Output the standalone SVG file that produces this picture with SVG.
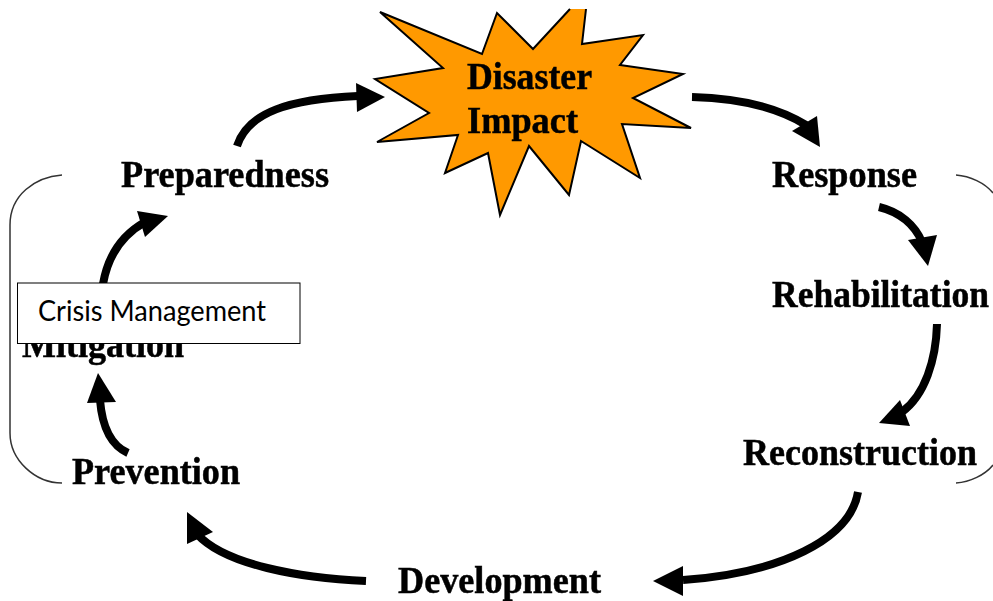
<svg xmlns="http://www.w3.org/2000/svg" width="993" height="601" viewBox="0 0 993 601">
<style>
.lbl{font-family:"Liberation Serif","Times New Roman",serif;font-weight:700;font-size:37px;fill:#000;stroke:#000;stroke-width:.5;filter:url(#soft)}
.arc{fill:none;stroke:#000;stroke-width:8}
.head{fill:#000}
.brk{fill:none;stroke:#333;stroke-width:1.5}
</style>
<defs><filter id="soft" x="-5%" y="-10%" width="110%" height="120%"><feGaussianBlur stdDeviation="0.5"/></filter></defs>
<rect width="993" height="601" fill="#fff"/>
<g id="connectors">
<path class="arc" d="M237 146C248 112 290 99 358 96"/><polygon class="head" points="385,97 356,83 357,112"/>
<path class="arc" d="M692 97C735 98 775 106 806 125"/><polygon class="head" points="820,147 817,116 792,131"/>
<path class="arc" d="M879 207C900 212 915 225 922 242"/><polygon class="head" points="928,266 937,235 908,240"/>
<path class="arc" d="M937 324C936 360 925 395 902 412"/><polygon class="head" points="879,423 910,426 900,400"/>
<path class="arc" d="M858 492C850 540 780 573 683 580"/><polygon class="head" points="653,581 683,566 683,596"/>
<path class="arc" d="M366 581C300 578 225 565 197 534"/><polygon class="head" points="187,512 213,532 187,544"/>
<path class="arc" d="M128 453C110 445 102 425 100 400"/><polygon class="head" points="98,373 87,403 116,402"/>
<path class="arc" d="M103 284C108 255 122 235 145 222"/><polygon class="head" points="168,216 137,211 145,237"/>
<path class="brk" d="M62 175C35 177 10 195 10 225V433C10 460 35 483 62 483"/>
<path class="brk" d="M956 175C970 176 985 183 993 193"/>
<path class="brk" d="M956 483C970 482 985 475 993 465"/>
</g>
<g id="disaster-impact">
<polygon fill="#ff9900" points="380,12 482,54 497,13 533,49 570,9 586,9 582,44 643,35 620,65 683,74 633,98 691,128 622,124 640,178 581,141 569,195 529,146 500,215 488,153 445,173 458,135 377,142 429,113 375,79 443,68"/>
<polyline fill="none" stroke="#000" stroke-width="2" points="570,9 533,49 497,13 482,54 380,12 443,68 375,79 429,113 377,142 458,135 445,173 488,153 500,215 529,146 569,195 581,141 640,178 622,124 691,128 633,98 683,74 620,65 643,35 582,44 586,9"/>
<text class="lbl" x="467" y="89" textLength="125" lengthAdjust="spacingAndGlyphs">Disaster</text>
<text class="lbl" x="467" y="133" textLength="111" lengthAdjust="spacingAndGlyphs">Impact</text>
</g>
<g id="preparedness"><text class="lbl" x="121" y="187" textLength="208" lengthAdjust="spacingAndGlyphs">Preparedness</text></g>
<g id="response"><text class="lbl" x="772" y="187" textLength="145" lengthAdjust="spacingAndGlyphs">Response</text></g>
<g id="rehabilitation"><text class="lbl" transform="translate(772 307) scale(.96 1)">Rehabilitation</text></g>
<g id="reconstruction"><text class="lbl" x="743" y="465" textLength="234" lengthAdjust="spacingAndGlyphs">Reconstruction</text></g>
<g id="development"><text class="lbl" x="398" y="593" textLength="203" lengthAdjust="spacingAndGlyphs">Development</text></g>
<g id="prevention"><text class="lbl" x="72" y="484" textLength="168" lengthAdjust="spacingAndGlyphs">Prevention</text></g>
<g id="mitigation"><text class="lbl" x="22" y="357" textLength="162" lengthAdjust="spacingAndGlyphs">Mitigation</text></g>
<g id="crisis-management">
<rect x="17.500" y="283" width="282.500" height="60.500" fill="#fff" stroke="#000" stroke-width="1"/>
<text x="38" y="321" font-family="Lato,'Liberation Sans',sans-serif" font-size="28" fill="#000" textLength="228" lengthAdjust="spacingAndGlyphs">Crisis Management</text>
</g>
</svg>
